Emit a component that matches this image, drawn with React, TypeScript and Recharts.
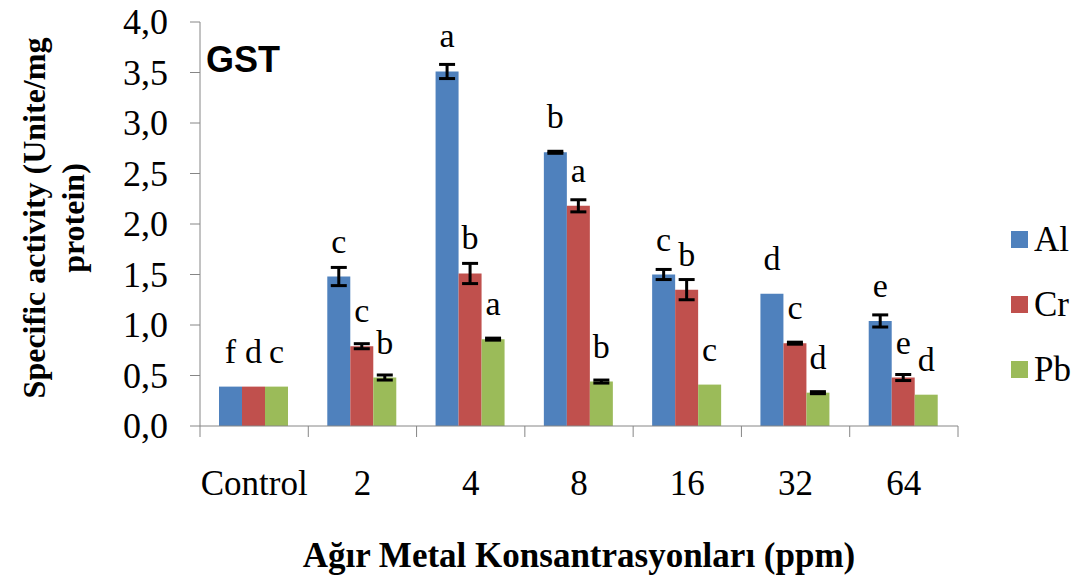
import {
  BarChart, Bar, XAxis, YAxis, ErrorBar, LabelList, Legend, Label,
} from 'recharts'

const doses = ['Control', '2', '4', '8', '16', '32', '64']

const alValues = [0.39, 1.48, 3.51, 2.71, 1.5, 1.31, 1.04]
const alErrors = [0, 0.09, 0.07, 0.01, 0.05, 0, 0.06]
const alLetters = ['f', 'c', 'a', 'b', 'c', 'd', 'e']

const crValues = [0.39, 0.79, 1.51, 2.18, 1.35, 0.82, 0.48]
const crErrors = [0, 0.025, 0.1, 0.06, 0.1, 0.01, 0.03]
const crLetters = ['d', 'c', 'b', 'a', 'b', 'c', 'e']

const pbValues = [0.39, 0.48, 0.86, 0.44, 0.41, 0.33, 0.31]
const pbErrors = [0, 0.025, 0.01, 0.015, 0, 0.01, 0]
const pbLetters = ['c', 'b', 'a', 'b', 'c', 'd', 'd']

const yTicks = [0, 0.5, 1, 1.5, 2, 2.5, 3, 3.5, 4]

const data = doses.map((dose, i) => ({
  dose,
  Al: alValues[i], alErr: alErrors[i], alSig: alLetters[i],
  Cr: crValues[i], crErr: crErrors[i], crSig: crLetters[i],
  Pb: pbValues[i], pbErr: pbErrors[i], pbSig: pbLetters[i],
}))

const SERIF = '"Liberation Serif", "Times New Roman", serif'
const SANS = '"Liberation Sans", Arial, sans-serif'
const AXIS = '#868686'

const WIDTH = 1083
const HEIGHT = 581
const Y_AXIS_W = 200
const X_AXIS_H = 155
const LEGEND_W = 115
const MARGIN = { top: 22, right: 10, bottom: 0, left: 0 }
const PLOT_W = WIDTH - Y_AXIS_W - MARGIN.right - LEGEND_W
const HALF_BAND = PLOT_W / doses.length / 2

const fmt = (v: number) => v.toFixed(1).replace('.', ',')

// Excel-style category axis: tick marks sit between groups, not under them
const DoseTick = (props: any) => {
  const x = Number(props.x)
  const y = Number(props.y)
  const last = props.index === doses.length - 1
  return (
    <g>
      <line x1={x - HALF_BAND} x2={x - HALF_BAND} y1={y} y2={y + 11} stroke={AXIS} />
      {last && <line x1={x + HALF_BAND} x2={x + HALF_BAND} y1={y} y2={y + 11} stroke={AXIS} />}
      <text x={x} y={y + 69} textAnchor="middle" fontFamily={SERIF} fontSize={35} fill="#000">
        {props.payload.value}
      </text>
    </g>
  )
}

const ValueTick = (props: any) => (
  <text
    x={Number(props.x)}
    y={Number(props.y)}
    dy="0.34em"
    textAnchor="end"
    fontFamily={SERIF}
    fontSize={36}
    fill="#000"
  >
    {fmt(props.payload.value)}
  </text>
)

// significance letter sits a fixed distance above the bar top
const sigLabel = (props: any) => {
  const x = Number(props.x) + Number(props.width) / 2
  const y = Number(props.y) - 24
  return (
    <text x={x} y={y} textAnchor="middle" fontFamily={SERIF} fontSize={34} fill="#000">
      {props.value}
    </text>
  )
}

const renderLegend = (props: any) => (
  <ul style={{ listStyle: 'none', margin: 0, padding: '0 0 0 53px', width: LEGEND_W, boxSizing: 'border-box' }}>
    {(props.payload || []).map((p: any) => (
      <li
        key={p.value}
        style={{ display: 'flex', alignItems: 'center', height: 65, fontFamily: SERIF, fontSize: 35, color: '#000' }}
      >
        <span style={{ display: 'inline-block', width: 17, height: 17, background: p.color, marginRight: 6 }} />
        {p.value}
      </li>
    ))}
  </ul>
)

const yTitle = () => (
  <g fontFamily={SERIF} fontSize={32} fontWeight="bold" fill="#000">
    <text x={45} y={218} textAnchor="middle" transform="rotate(-90, 45, 218)">
      Specific activity (Unite/mg
    </text>
    <text x={84} y={218} textAnchor="middle" transform="rotate(-90, 84, 218)">
      protein)
    </text>
  </g>
)

const gstTitle = () => (
  <text x={206} y={72} fontFamily={SANS} fontSize={36} fontWeight="bold" fill="#000">
    GST
  </text>
)

const xTitle = (props: any) => {
  const vb = props.viewBox || {}
  const cx = Number(vb.x) + Number(vb.width) / 2
  return (
    <text x={cx} y={567} textAnchor="middle" fontFamily={SERIF} fontSize={35} fontWeight="bold" fill="#000">
      Ağır Metal Konsantrasyonları (ppm)
    </text>
  )
}

export default function App() {
  return (
    <div style={{ position: 'absolute', left: 0, top: 0, background: '#fff' }}>
      <BarChart
        width={WIDTH}
        height={HEIGHT}
        data={data}
        margin={MARGIN}
        barCategoryGap={19}
        barGap={0}
      >
        <XAxis
          dataKey="dose"
          height={X_AXIS_H}
          stroke={AXIS}
          tickLine={false}
          tickSize={0}
          tickMargin={0}
          tick={<DoseTick />}
          interval={0}
        >
          <Label content={xTitle} />
        </XAxis>
        <YAxis
          width={Y_AXIS_W}
          domain={[0, 4]}
          ticks={yTicks}
          stroke={AXIS}
          tickSize={10}
          tickMargin={22}
          tick={<ValueTick />}
          interval={0}
        >
          <Label content={yTitle} />
          <Label content={gstTitle} />
        </YAxis>
        <Legend
          layout="vertical"
          align="right"
          verticalAlign="top"
          content={renderLegend}
          wrapperStyle={{ top: 207 }}
        />
        <Bar dataKey="Al" fill="#4F81BD" isAnimationActive={false}>
          <ErrorBar dataKey="alErr" width={8} strokeWidth={3} stroke="#000" />
          <LabelList dataKey="alSig" content={sigLabel} />
        </Bar>
        <Bar dataKey="Cr" fill="#C0504D" isAnimationActive={false}>
          <ErrorBar dataKey="crErr" width={8} strokeWidth={3} stroke="#000" />
          <LabelList dataKey="crSig" content={sigLabel} />
        </Bar>
        <Bar dataKey="Pb" fill="#9BBB59" isAnimationActive={false}>
          <ErrorBar dataKey="pbErr" width={8} strokeWidth={3} stroke="#000" />
          <LabelList dataKey="pbSig" content={sigLabel} />
        </Bar>
      </BarChart>
    </div>
  )
}
